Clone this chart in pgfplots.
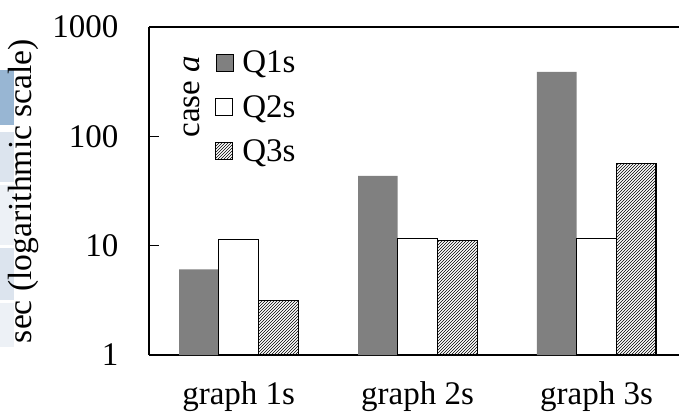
\documentclass[border=0pt]{standalone}
\usepackage{pgfplots}
\pgfplotsset{compat=1.18}
\usepackage{fontspec}
\setmainfont{Liberation Serif}
\usetikzlibrary{patterns}
\newcommand{\bigfnt}{\fontsize{33}{39}\selectfont}
\begin{document}
\begin{tikzpicture}[x=1pt,y=1pt]
% background artifacts at left edge
\fill[fill={rgb,255:red,152;green,182;blue,211}] (0,288) rectangle (14,343);
\fill[fill={rgb,255:red,220;green,228;blue,238}] (0,231) rectangle (14,281);
\fill[fill={rgb,255:red,237;green,241;blue,246}] (0,168) rectangle (14,228);
\fill[fill={rgb,255:red,220;green,228;blue,238}] (0,113) rectangle (14,165);
\fill[fill={rgb,255:red,237;green,241;blue,246}] (0,66) rectangle (14,110);
\begin{axis}[
  at={(149pt,58pt)}, anchor=south west,
  scale only axis, width=530pt, height=328pt,
  font=\bigfnt,
  ymode=log, ymin=1, ymax=1000, log basis y=10,
  xmin=-0.501, xmax=2.461,
  axis x line*=box, axis y line*=left,
  axis line style={line width=1.5pt},
  ybar=0pt, bar width=39.7pt,
  xtick={0,1,2}, xticklabels={graph 1s,graph 2s,graph 3s},
  x tick style={draw=none},
  ytick={1,10,100,1000}, yticklabels={1,10,100,1000},
  yminorticks=false,
  y tick style={line width=1.5pt, black},
  major tick length=10pt,
  tick align=inside,
  xticklabel style={font=\bigfnt, yshift=-23pt},
  yticklabel style={font=\bigfnt, xshift=-27pt},
  ylabel={sec (logarithmic scale)},
  ylabel style={font=\fontsize{33.6}{40}\selectfont, at={(axis description cs:-0.237,0.5)}, anchor=center},
  legend style={draw=none, fill=none, font=\bigfnt, at={(rel axis cs:0.1245,0.934)}, anchor=north west, row sep=17pt, column sep=7pt, inner sep=0pt},
  legend cell align=left,
  legend image code/.code={\draw[#1, bar shift=0pt] (0pt,-8.5pt) rectangle (17pt,8.5pt);},
]
\addplot[fill={rgb,255:red,128;green,128;blue,128}, draw=none] coordinates {(0,6.08) (1,43.5) (2,388)};
\addplot[fill=white, draw=black, line width=1.2pt] coordinates {(0,11.3) (1,11.7) (2,11.7)};
\addplot[pattern=north east lines, draw=black, line width=1.2pt] coordinates {(0,3.14) (1,11.1) (2,56)};
\legend{Q1s,Q2s,Q3s}
\node[rotate=90, font=\bigfnt] at (rel axis cs:0.081,0.787) {case \textit{a}};
\end{axis}
\pgfresetboundingbox
\path[use as bounding box] (0,0) rectangle (679,413);
\end{tikzpicture}
\end{document}
